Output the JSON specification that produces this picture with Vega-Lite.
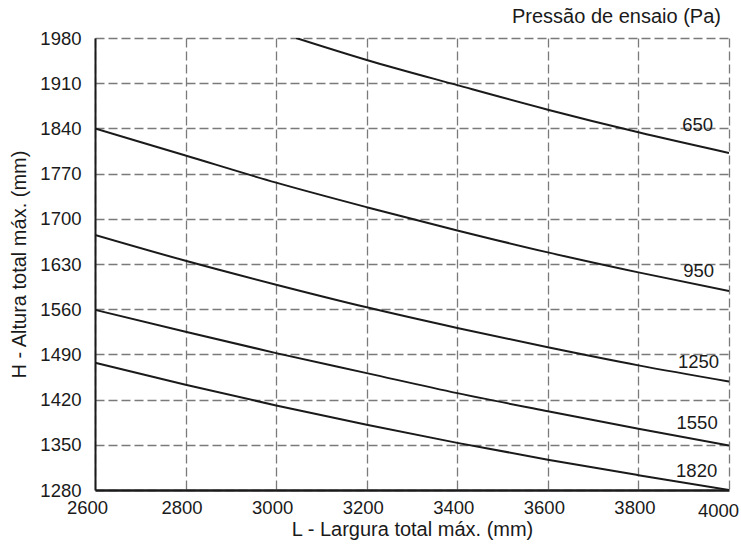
{
  "$schema": "https://vega.github.io/schema/vega-lite/v6.json",
  "width": 634,
  "height": 452,
  "autosize": "none",
  "padding": {"left": 95, "top": 38, "right": 12, "bottom": 54},
  "background": "white",
  "config": {
    "view": {"stroke": null},
    "font": "Liberation Sans"
  },
  "title": {
    "text": "Pressão de ensaio (Pa)",
    "anchor": "end",
    "frame": "group",
    "fontSize": 20,
    "fontWeight": "normal",
    "color": "#1a1a1a",
    "offset": 2,
    "dx": -8
  },
  "datasets": {
    "curves": [
      {"p": "650", "L": 3044, "H": 1980},
      {"p": "650", "L": 3200, "H": 1946},
      {"p": "650", "L": 3400, "H": 1907},
      {"p": "650", "L": 3600, "H": 1869},
      {"p": "650", "L": 3800, "H": 1834},
      {"p": "650", "L": 4000, "H": 1802},
      {"p": "950", "L": 2600, "H": 1840},
      {"p": "950", "L": 2800, "H": 1798},
      {"p": "950", "L": 3000, "H": 1756},
      {"p": "950", "L": 3200, "H": 1718},
      {"p": "950", "L": 3400, "H": 1682},
      {"p": "950", "L": 3600, "H": 1648},
      {"p": "950", "L": 3800, "H": 1617},
      {"p": "950", "L": 4000, "H": 1588},
      {"p": "1250", "L": 2600, "H": 1675},
      {"p": "1250", "L": 2800, "H": 1635},
      {"p": "1250", "L": 3000, "H": 1598},
      {"p": "1250", "L": 3200, "H": 1563},
      {"p": "1250", "L": 3400, "H": 1531},
      {"p": "1250", "L": 3600, "H": 1501},
      {"p": "1250", "L": 3800, "H": 1473},
      {"p": "1250", "L": 4000, "H": 1448},
      {"p": "1550", "L": 2600, "H": 1559},
      {"p": "1550", "L": 2800, "H": 1525},
      {"p": "1550", "L": 3000, "H": 1492},
      {"p": "1550", "L": 3200, "H": 1461},
      {"p": "1550", "L": 3400, "H": 1430},
      {"p": "1550", "L": 3600, "H": 1402},
      {"p": "1550", "L": 3800, "H": 1375},
      {"p": "1550", "L": 4000, "H": 1349},
      {"p": "1820", "L": 2600, "H": 1477},
      {"p": "1820", "L": 2800, "H": 1443},
      {"p": "1820", "L": 3000, "H": 1411},
      {"p": "1820", "L": 3200, "H": 1381},
      {"p": "1820", "L": 3400, "H": 1353},
      {"p": "1820", "L": 3600, "H": 1327},
      {"p": "1820", "L": 3800, "H": 1303},
      {"p": "1820", "L": 4000, "H": 1280}
    ],
    "labels": [
      {"p": "650", "L": 3965, "H": 1846},
      {"p": "950", "L": 3967, "H": 1619},
      {"p": "1250", "L": 3978, "H": 1479},
      {"p": "1550", "L": 3975, "H": 1383},
      {"p": "1820", "L": 3974, "H": 1309}
    ]
  },
  "encoding": {
    "x": {
      "field": "L",
      "type": "quantitative",
      "scale": {"domain": [2600, 4000], "nice": false, "zero": false},
      "axis": {
        "title": "L - Largura total máx. (mm)",
        "values": [2600, 2800, 3000, 3200, 3400, 3600, 3800, 4000],
        "format": "d",
        "grid": true,
        "gridColor": "#7a7a7a",
        "gridDash": [9, 4],
        "gridWidth": 1.3,
        "gridOpacity": 1,
        "domainColor": "#1a1a1a",
        "domainWidth": 2.5,
        "ticks": false,
        "labelPadding": {"expr": "datum.value == 4000 ? 11 : 8"},
        "labelOffset": {"expr": "datum.value == 2600 ? -8 : datum.value == 4000 ? -11 : -4"},
        "labelFontSize": 18.5,
        "labelColor": "#1a1a1a",
        "labelFlush": false,
        "titleFontSize": 20,
        "titleFontWeight": "normal",
        "titleColor": "#1a1a1a",
        "titlePadding": 0
      }
    },
    "y": {
      "field": "H",
      "type": "quantitative",
      "scale": {"domain": [1280, 1980], "nice": false, "zero": false},
      "axis": {
        "title": "H - Altura total máx. (mm)",
        "values": [1280, 1350, 1420, 1490, 1560, 1630, 1700, 1770, 1840, 1910, 1980],
        "format": "d",
        "grid": true,
        "gridColor": "#7a7a7a",
        "gridDash": [9, 4],
        "gridWidth": 1.3,
        "gridOpacity": 1,
        "domainColor": "#1a1a1a",
        "domainWidth": 2,
        "ticks": false,
        "labelPadding": 14,
        "labelFontSize": 18.5,
        "labelColor": "#1a1a1a",
        "labelFlush": false,
        "titleFontSize": 20,
        "titleFontWeight": "normal",
        "titleColor": "#1a1a1a",
        "titlePadding": 10
      }
    }
  },
  "layer": [
    {
      "data": {"name": "curves"},
      "mark": {"type": "line", "color": "#1a1a1a", "strokeWidth": 2, "interpolate": "monotone", "clip": true},
      "encoding": {"detail": {"field": "p", "type": "nominal"}}
    },
    {
      "data": {"name": "labels"},
      "mark": {"type": "text", "fontSize": 18.5, "color": "#1a1a1a", "align": "right", "baseline": "middle"},
      "encoding": {"text": {"field": "p", "type": "nominal"}}
    }
  ]
}
